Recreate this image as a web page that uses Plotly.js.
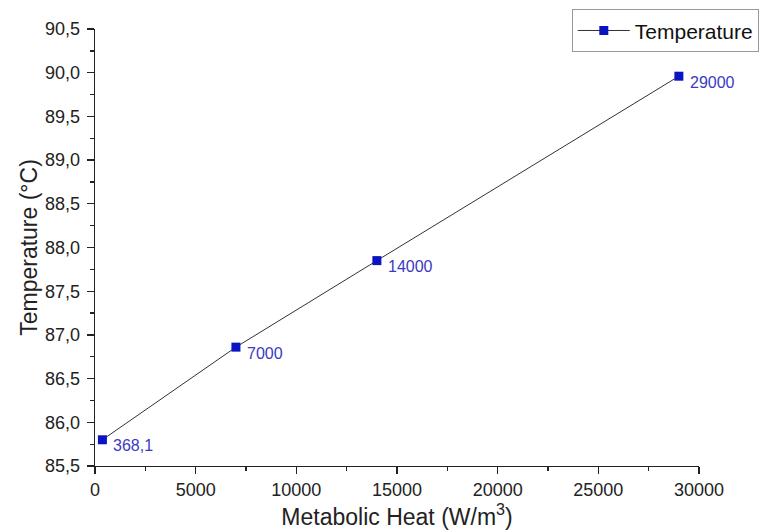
<!DOCTYPE html>
<html>
<head>
<meta charset="utf-8">
<script src="https://cdn.plot.ly/plotly-3.0.1.min.js"></script>
<style>html,body{margin:0;padding:0;background:#fff;}#chart{width:761px;height:531px;}</style>
</head>
<body>
<div id="chart"></div>
<script>
var metabolicHeat = [368.1, 7000, 14000, 29000];
var temperature = [85.80, 86.86, 87.85, 89.96];
var pointLabels = ['368,1', '7000', '14000', '29000'];
var seriesName = 'Temperature';

var trace = {
  x: metabolicHeat,
  y: temperature,
  name: seriesName,
  type: 'scatter',
  mode: 'lines+markers',
  line: {color: '#333333', width: 1},
  marker: {symbol: 'square', size: 9, color: '#0a14c0'},
  cliponaxis: false
};

var annotations = metabolicHeat.map(function (xv, i) {
  return {
    x: xv, y: temperature[i], xref: 'x', yref: 'y',
    text: pointLabels[i], showarrow: false,
    xanchor: 'left', yanchor: 'middle',
    xshift: 9, yshift: -6,
    font: {family: 'Liberation Sans, Arial, sans-serif', size: 16, color: '#3a3ac4'}
  };
});

var layout = {
  width: 761, height: 531,
  margin: {l: 95, r: 62, t: 29, b: 65, autoexpand: false},
  paper_bgcolor: '#ffffff', plot_bgcolor: '#ffffff',
  separators: ',.',
  font: {family: 'Liberation Sans, Arial, sans-serif', color: '#222222'},
  showlegend: true,
  annotations: annotations,
  legend: {
    x: 1.099, y: 1.045, xanchor: 'right', yanchor: 'top',
    bordercolor: '#999999', borderwidth: 1, bgcolor: '#ffffff',
    font: {size: 21, color: '#111111'},
    itemwidth: 52, tracegroupgap: 0
  },
  xaxis: {
    range: [0, 30000], dtick: 5000, tickformat: 'd', automargin: false,
    showgrid: false, zeroline: false, showline: true, linecolor: '#222', linewidth: 1.3,
    ticks: 'outside', ticklen: 7, tickwidth: 1.3, tickcolor: '#222',
    tickfont: {size: 18, color: '#222'},
    minor: {ticks: 'outside', ticklen: 4, dtick: 2500, tickwidth: 1.3, tickcolor: '#222', showgrid: false},
    title: {text: 'Metabolic Heat (W/m<sup>3</sup>)', font: {size: 23, color: '#222'}, standoff: 8}
  },
  yaxis: {
    range: [85.5, 90.5], dtick: 0.5, tickformat: '.1f', automargin: false,
    showgrid: false, zeroline: false, showline: true, linecolor: '#222', linewidth: 1.3,
    ticks: 'outside', ticklen: 7, tickwidth: 1.3, tickcolor: '#222',
    ticklabelstandoff: 3,
    tickfont: {size: 18, color: '#222'},
    minor: {ticks: 'outside', ticklen: 4, dtick: 0.25, tickwidth: 1.3, tickcolor: '#222', showgrid: false},
    title: {text: 'Temperature (°C)', font: {size: 23, color: '#222'}, standoff: 1}
  }
};

Plotly.newPlot('chart', [trace], layout, {displayModeBar: false, staticPlot: true});
</script>
</body>
</html>
